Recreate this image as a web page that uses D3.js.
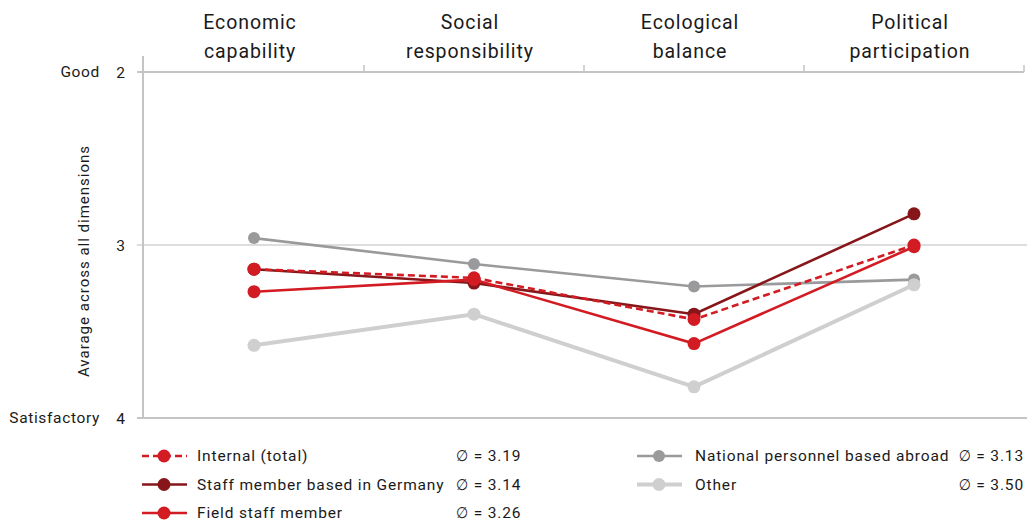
<!DOCTYPE html>
<html>
<head>
<meta charset="utf-8">
<script src="https://cdn.jsdelivr.net/npm/d3@7/dist/d3.min.js"></script>
<style>
  html, body { margin: 0; padding: 0; background: #fff; }
  svg { display: block; }
  text { font-family: Roboto, "DejaVu Sans Condensed", sans-serif; fill: #1a1a1a; }
</style>
</head>
<body>
<svg id="chart" width="1027" height="524"></svg>
<script>
// Dimensions shown as columns
const categories = ["Economic capability", "Social responsibility", "Ecological balance", "Political participation"];
const headerLines = [["Economic", "capability"], ["Social", "responsibility"], ["Ecological", "balance"], ["Political", "participation"]];

// Average grade per dimension (2 = good, 4 = satisfactory)
const internalTotal   = [3.14, 3.19, 3.43, 3.00];
const staffGermany    = [3.14, 3.22, 3.40, 2.82];
const fieldStaff      = [3.27, 3.20, 3.57, 3.01];
const nationalAbroad  = [2.96, 3.11, 3.24, 3.20];
const other           = [3.58, 3.40, 3.82, 3.23];

const seriesNames = ["Internal (total)", "Staff member based in Germany", "Field staff member", "National personnel based abroad", "Other"];
const seriesMeans = ["3.19", "3.14", "3.26", "3.13", "3.50"];

const yTicks = [2, 3, 4];
const yTickWords = { 2: "Good", 4: "Satisfactory" };

const series = [
  { name: seriesNames[3], mean: seriesMeans[3], values: nationalAbroad, color: "#9a9a9c", width: 2.6, dash: null, r: 6 },
  { name: seriesNames[4], mean: seriesMeans[4], values: other,          color: "#cfcfd0", width: 4,   dash: null, r: 6.5 },
  { name: seriesNames[1], mean: seriesMeans[1], values: staffGermany,   color: "#861619", width: 2.6, dash: null, r: 6.5 },
  { name: seriesNames[0], mean: seriesMeans[0], values: internalTotal,  color: "#d21b22", width: 2.6, dash: "7,4", r: 6.5 },
  { name: seriesNames[2], mean: seriesMeans[2], values: fieldStaff,     color: "#d21b22", width: 2.6, dash: null, r: 6.5 }
];

const svg = d3.select("#chart");

const x = d3.scaleBand().domain(categories).range([144, 1024]);
const y = d3.scaleLinear().domain([2, 4]).range([72, 418]);
const cx = c => x(c) + x.bandwidth() / 2;

// Horizontal grid lines at each grade
const grid = svg.append("g");
grid.selectAll("line").data(yTicks).join("line")
  .attr("x1", 137).attr("x2", d => d === 2 ? 1024 : 1027)
  .attr("y1", d => y(d)).attr("y2", d => y(d))
  .attr("stroke", d => d === 3 ? "#d2d2d2" : "#c4c4c4")
  .attr("stroke-width", d => d === 3 ? 1.5 : 2);

// Column separators along the top line
svg.append("g").selectAll("line").data(categories.slice(1).concat(["end"])).join("line")
  .attr("x1", (d, i) => x.range()[0] + x.bandwidth() * (i + 1))
  .attr("x2", (d, i) => x.range()[0] + x.bandwidth() * (i + 1))
  .attr("y1", 65).attr("y2", y(2))
  .attr("stroke", "#c4c4c4").attr("stroke-width", 1.5);

// Left axis
const yAxis = d3.axisLeft(y).tickValues(yTicks).tickSize(0).tickPadding(18).tickFormat(d3.format("d"));
const ag = svg.append("g").attr("transform", "translate(143,0)").call(yAxis);
ag.select(".domain").remove();
ag.selectAll("text").style("font-size", "15.5px").style("font-family", "Roboto, sans-serif").attr("fill", "#1a1a1a").attr("dy", "0.35em");
svg.append("line").attr("x1", 143).attr("x2", 143).attr("y1", 56).attr("y2", 418)
  .attr("stroke", "#c4c4c4").attr("stroke-width", 2);

// Words next to the grade numbers
svg.append("g").selectAll("text").data(yTicks.filter(d => yTickWords[d])).join("text")
  .attr("x", 100).attr("y", d => y(d)).attr("dy", "0.35em")
  .attr("text-anchor", "end").style("font-size", "15.5px").style("letter-spacing", "0.65px")
  .text(d => yTickWords[d]);

// Axis title
svg.append("text")
  .attr("transform", `translate(89,${(y(2) + y(4)) / 2 + 16}) rotate(-90)`)
  .attr("text-anchor", "middle").style("font-size", "15px").style("letter-spacing", "1px")
  .text("Avarage across all dimensions");

// Column headers
const hdr = svg.append("g").selectAll("text").data(categories).join("text")
  .attr("x", d => cx(d) - 4).attr("text-anchor", "middle")
  .style("font-size", "19.5px").style("letter-spacing", "0.9px");
hdr.each(function(d, i) {
  const t = d3.select(this);
  headerLines[i].forEach((ln, j) => {
    t.append("tspan").attr("x", cx(d) - 4).attr("y", 29 + j * 29).text(ln);
  });
});

// Lines and points
const line = d3.line().x((d, i) => cx(categories[i])).y(d => y(d));
const sg = svg.append("g").selectAll("g").data(series).join("g");
sg.append("path")
  .attr("d", d => line(d.values))
  .attr("fill", "none")
  .attr("stroke", d => d.color)
  .attr("stroke-width", d => d.width)
  .attr("stroke-dasharray", d => d.dash);
sg.selectAll("circle").data(d => d.values.map((v, i) => ({ v, i, s: d }))).join("circle")
  .attr("cx", d => cx(categories[d.i])).attr("cy", d => y(d.v))
  .attr("r", d => d.s.r).attr("fill", d => d.s.color);

// Legend
const legendItems = [
  { s: series[3], lx: 142, tx: 197, mx: 456, anchor: "start", row: 0 },
  { s: series[2], lx: 142, tx: 197, mx: 456, anchor: "start", row: 1 },
  { s: series[4], lx: 142, tx: 197, mx: 456, anchor: "start", row: 2 },
  { s: series[0], lx: 637, tx: 695, mx: 1024, anchor: "end", row: 0 },
  { s: series[1], lx: 637, tx: 695, mx: 1024, anchor: "end", row: 1 }
];
const lg = svg.append("g").selectAll("g").data(legendItems).join("g")
  .attr("transform", d => `translate(0,${456 + d.row * 28.5})`);
lg.append("line")
  .attr("x1", d => d.lx).attr("x2", d => d.lx + 45)
  .attr("stroke", d => d.s.color).attr("stroke-width", d => d.s.width)
  .attr("stroke-dasharray", d => d.s.dash);
lg.append("circle").attr("cx", d => d.lx + 22).attr("r", d => d.s.r).attr("fill", d => d.s.color);
lg.append("text").attr("x", d => d.tx).attr("dy", "0.35em")
  .style("font-size", "15.5px").style("letter-spacing", "0.85px")
  .text(d => d.s.name);
lg.append("text").attr("x", d => d.mx).attr("dy", "0.35em").attr("text-anchor", d => d.anchor)
  .style("font-size", "15.5px").style("letter-spacing", "0.85px")
  .text(d => "\u2205 = " + d.s.mean);
</script>
</body>
</html>
